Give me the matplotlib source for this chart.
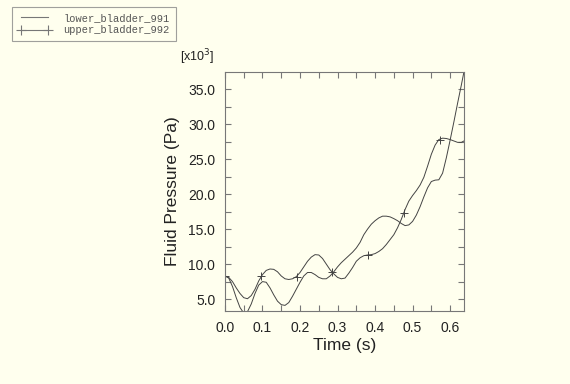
import matplotlib.pyplot as plt
from matplotlib.lines import Line2D
from matplotlib.ticker import MultipleLocator, FormatStrFormatter

# Time samples (s)
time = [0.00, 0.01, 0.02, 0.03, 0.04, 0.05, 0.06, 0.07, 0.08, 0.09,
        0.10, 0.11, 0.12, 0.13, 0.14, 0.15, 0.16, 0.17, 0.18, 0.19,
        0.20, 0.21, 0.22, 0.23, 0.24, 0.25, 0.26, 0.27, 0.28, 0.29,
        0.30, 0.31, 0.32, 0.33, 0.34, 0.35, 0.36, 0.37, 0.38, 0.39,
        0.40, 0.41, 0.42, 0.43, 0.44, 0.45, 0.46, 0.47, 0.48, 0.49,
        0.50, 0.51, 0.52, 0.53, 0.54, 0.55, 0.56, 0.57, 0.58, 0.59,
        0.60, 0.61, 0.62, 0.63, 0.637]

# Fluid pressure in x10^3 Pa
lower_bladder = [8.3, 8.0, 6.8, 5.2, 3.8, 3.0, 3.2, 4.3, 5.8, 7.0,
                 7.5, 7.4, 6.6, 5.6, 4.7, 4.2, 4.1, 4.5, 5.4, 6.4,
                 7.4, 8.3, 8.8, 8.8, 8.5, 8.1, 7.9, 7.9, 8.3, 8.9,
                 9.6, 10.2, 10.7, 11.2, 11.7, 12.3, 13.1, 14.2, 15.0, 15.7,
                 16.2, 16.6, 16.85, 16.85, 16.75, 16.5, 16.2, 15.8, 15.5, 15.6,
                 16.1, 17.0, 18.2, 19.6, 20.9, 21.8, 22.0, 22.05, 23.0, 25.2,
                 27.7, 30.3, 33.0, 35.6, 37.5]

upper_bladder = [8.3, 8.1, 7.5, 6.6, 5.8, 5.2, 5.05, 5.5, 6.4, 7.6,
                 8.5, 9.1, 9.3, 9.25, 8.9, 8.3, 7.9, 7.8, 7.9, 8.2,
                 8.8, 9.6, 10.4, 11.0, 11.35, 11.3, 10.8, 10.0, 9.2, 8.6,
                 8.1, 7.9, 8.0, 8.7, 9.5, 10.4, 10.9, 11.2, 11.3, 11.35,
                 11.5, 11.8, 12.2, 12.8, 13.5, 14.2, 15.2, 16.4, 17.8, 19.0,
                 19.8, 20.5, 21.3, 22.4, 24.0, 25.7, 27.0, 27.8, 28.0, 27.95,
                 27.8, 27.6, 27.4, 27.4, 27.6]

# Marker positions on upper_bladder_992
marker_time = [0.0, 0.096, 0.191, 0.285, 0.38, 0.476, 0.572]
marker_value = [8.3, 8.3, 8.2, 8.9, 11.3, 17.3, 27.8]

bg = '#ffffee'
line_col = '#444444'
text_col = '#222222'

fig = plt.figure(figsize=(5.7, 3.84), dpi=100, facecolor=bg)
ax = fig.add_axes([0.3947, 0.190, 0.4193, 0.6224], facecolor=bg)

ax.plot(time, lower_bladder, color=line_col, lw=0.7)
ax.plot(time, upper_bladder, color=line_col, lw=0.7)
ax.plot(marker_time, marker_value, ls='none', marker='+', ms=6,
        mew=0.7, color=line_col)

ax.set_xlim(0.0, 0.637)
ax.set_ylim(3.29, 37.45)

ax.xaxis.set_major_locator(MultipleLocator(0.1))
ax.xaxis.set_minor_locator(MultipleLocator(0.05))
ax.yaxis.set_major_locator(MultipleLocator(5))
ax.yaxis.set_minor_locator(MultipleLocator(2.5))
ax.xaxis.set_major_formatter(FormatStrFormatter('%.1f'))
ax.yaxis.set_major_formatter(FormatStrFormatter('%.1f'))

ax.tick_params(which='both', direction='in', top=True, right=True,
               color='#777777', labelcolor=text_col, labelsize=10,
               width=0.8, length=4.5)
ax.tick_params(which='major', pad=7)
for s in ax.spines.values():
    s.set_color('#777777')
    s.set_linewidth(0.8)

for lab in ax.get_xticklabels() + ax.get_yticklabels():
    lab.set_family('Liberation Sans')

ax.set_xlabel('Time (s)', fontsize=12.5, family='Liberation Sans',
              color=text_col, labelpad=2)
ax.set_ylabel('Fluid Pressure (Pa)', fontsize=12.5,
              family='Liberation Sans', color=text_col, labelpad=6)

fig.text(197 / 570, 1 - 57 / 384, '[x10$^3$]', fontsize=9,
         family='Liberation Sans', color=text_col, ha='center', va='center')

# Legend outside the axes, top-left of the figure
handles = [Line2D([], [], color='#777777', lw=0.8),
           Line2D([], [], color='#777777', lw=0.8, marker='+', ms=7,
                  mew=0.8)]
leg = fig.legend(handles, ['lower_bladder_991', 'upper_bladder_992'],
                 loc='upper left', bbox_to_anchor=(12 / 570, 1 - 7 / 384),
                 prop={'family': 'Liberation Mono', 'size': 7.5},
                 frameon=True, fancybox=False, handlelength=3.2,
                 borderaxespad=0, labelspacing=0.25, borderpad=0.55,
                 handletextpad=1.2, numpoints=2)
leg.get_frame().set_edgecolor('#888888')
leg.get_frame().set_facecolor(bg)
leg.get_frame().set_linewidth(0.8)
for t in leg.get_texts():
    t.set_color('#555555')

fig.savefig('out.png', dpi=100, facecolor=bg)
